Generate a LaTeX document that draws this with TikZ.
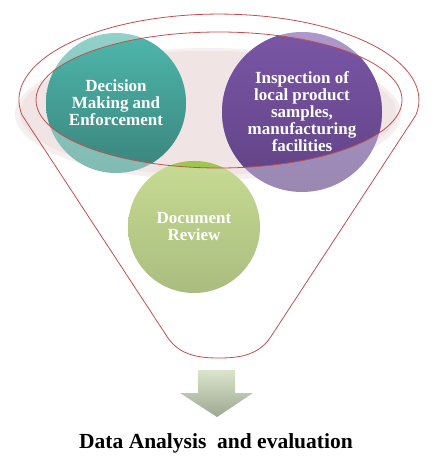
\documentclass[tikz,border=0pt]{standalone}
\usepackage{fontspec}
\setmainfont{Liberation Serif}
\definecolor{rimred}{RGB}{192,80,77}
\definecolor{rimpink}{RGB}{240,228,229}
\definecolor{tealin}{RGB}{78,183,172}
\definecolor{tealinb}{RGB}{58,132,124}
\definecolor{tealout}{RGB}{145,209,201}
\definecolor{tealoutb}{RGB}{128,186,179}
\definecolor{purpin}{RGB}{122,86,166}
\definecolor{purpinb}{RGB}{96,66,132}
\definecolor{purpout}{RGB}{172,152,204}
\definecolor{purpoutb}{RGB}{154,136,178}
\definecolor{greenin}{RGB}{158,199,76}
\definecolor{greenout}{RGB}{198,219,146}
\definecolor{greenoutb}{RGB}{170,189,128}
\definecolor{arrtop}{RGB}{218,229,203}
\definecolor{arrbot}{RGB}{158,168,146}
\tikzset{
  rim/.style={rimred, line width=0.8pt},
  circtext/.style={text=white, align=center, font=\bfseries\fontsize{17}{17}\selectfont},
}

\begin{document}
\begin{tikzpicture}[x=1pt,y=-1pt]
\useasboundingbox (0,0) rectangle (433,460);
\coordinate (F) at (219,100); \coordinate (T) at (116,103); \coordinate (P) at (302,112); \coordinate (G) at (194,227);
\coordinate (L) at (22,115); \coordinate (R) at (416,115);
% soft band behind the circles
\fill[rimpink!60] (208,114) ellipse [x radius=193, y radius=66];
\fill[rimpink] (208,113) ellipse [x radius=188, y radius=62];
% circles, faded outside the rim
\shade[top color=tealout, bottom color=tealoutb] (T) circle (70);
\shade[top color=purpout, bottom color=purpoutb] (P) circle (80);
\shade[top color=greenout, bottom color=greenoutb] (G) circle (66);
\begin{scope}
\clip (F) ellipse [x radius=183, y radius=68];
\shade[top color=tealin, bottom color=tealinb] (T) circle (70);
\shade[top color=purpin, bottom color=purpinb] (P) circle (80);
\fill[greenin] (G) circle (66);
\end{scope}
% funnel outline
\draw[rim] (F) ellipse [x radius=183, y radius=68];
\draw[rim] (L) arc[start angle=170, end angle=370, x radius=200, y radius=86] -- (270,338)
  .. controls (258,355) and (240,358) .. (219,358) .. controls (198,358) and (180,355) .. (168,338) -- cycle;
\node[circtext] (decision) at (T) {Decision\\Making and\\Enforcement};
\node[circtext] (inspection) at (P) {Inspection of\\local product\\samples,\\manufacturing\\facilities};
\node[circtext] (review) at (G) {Document\\Review};
% output arrow
\shade[top color=arrtop, bottom color=arrbot] (198,370) -- (235,370) -- (235,393) -- (253,393) -- (217,417) -- (180,393) -- (198,393) -- cycle;
\node[anchor=base, font=\bfseries\fontsize{21.5}{24}\selectfont] (result) at (216,448) {Data Analysis\ \ and evaluation};
\end{tikzpicture}
\end{document}
